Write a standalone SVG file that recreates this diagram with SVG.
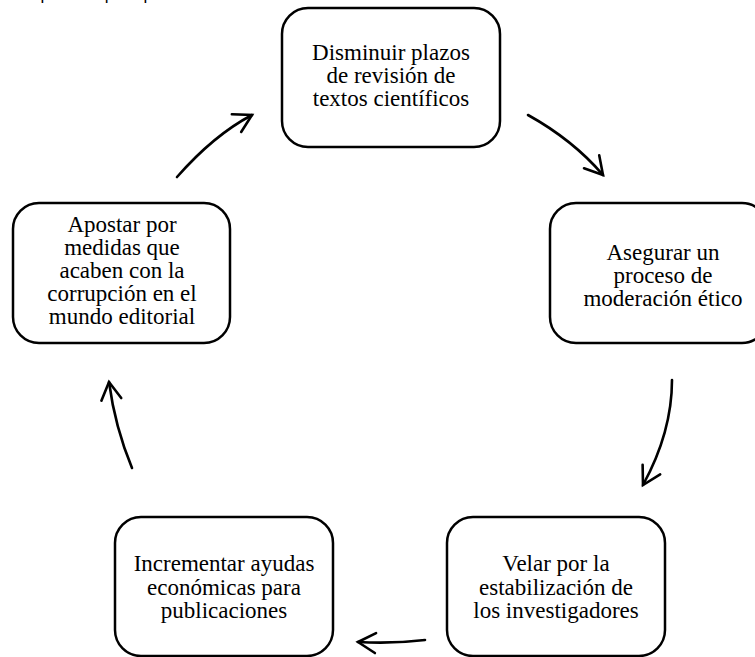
<svg xmlns="http://www.w3.org/2000/svg" width="755" height="657" viewBox="0 0 755 657">
<style>
.box{fill:#fff;stroke:#000;stroke-width:2.5}
.t{font-family:"Liberation Serif","Times New Roman",serif;font-size:23px;fill:#000;text-anchor:middle}
.cap{font-family:"Liberation Sans",Arial,sans-serif;font-size:17px;fill:#000}
.arr{fill:none;stroke:#000;stroke-width:2.6;stroke-linecap:round;marker-end:url(#ah)}
</style>
<defs>
<marker id="ah" markerUnits="userSpaceOnUse" viewBox="-22 -14 26 28" markerWidth="26" markerHeight="28" refX="0" refY="0" orient="auto" overflow="visible">
<path d="M-17.5,-10 L0,0 L-17.5,10" fill="none" stroke="#000" stroke-width="2.6" stroke-linecap="round" stroke-linejoin="miter"/>
</marker>
</defs>
<rect width="755" height="657" fill="#fff"/>
<text class="cap" x="14" y="-0.5">Propuestas para potenciar la sociedad del conocimiento</text>
<g id="n1">
<rect class="box" x="282" y="8" width="218" height="139" rx="26"/>
<text class="t"><tspan x="391" y="60">Disminuir plazos</tspan><tspan x="391" y="83">de revisión de</tspan><tspan x="391" y="106">textos científicos</tspan></text>
</g>
<g id="n2">
<rect class="box" x="550" y="203" width="218" height="140" rx="26"/>
<text class="t"><tspan x="663" y="260">Asegurar un</tspan><tspan x="663" y="283">proceso de</tspan><tspan x="663" y="306">moderación ético</tspan></text>
</g>
<g id="n3">
<rect class="box" x="447" y="517" width="218" height="139" rx="26"/>
<text class="t"><tspan x="556" y="571">Velar por la</tspan><tspan x="556" y="595">estabilización de</tspan><tspan x="556" y="618">los investigadores</tspan></text>
</g>
<g id="n4">
<rect class="box" x="115" y="517" width="218" height="139" rx="26"/>
<text class="t"><tspan x="224" y="571">Incrementar ayudas</tspan><tspan x="224" y="595">económicas para</tspan><tspan x="224" y="618">publicaciones</tspan></text>
</g>
<g id="n5">
<rect class="box" x="13" y="203" width="217" height="140" rx="26"/>
<text class="t"><tspan x="122" y="232">Apostar por</tspan><tspan x="122" y="255">medidas que</tspan><tspan x="122" y="278">acaben con la</tspan><tspan x="122" y="301">corrupción en el</tspan><tspan x="122" y="324">mundo editorial</tspan></text>
</g>
<g id="connectors">
<path class="arr" d="M528,115 Q573,140 603,175"/>
<path class="arr" d="M672,380 Q672,432 643,485"/>
<path class="arr" d="M425,640 Q392,644 358,642"/>
<path class="arr" d="M132,468 Q115,427 109,382"/>
<path class="arr" d="M177,177 Q214,135 252,115"/>
</g>
</svg>
